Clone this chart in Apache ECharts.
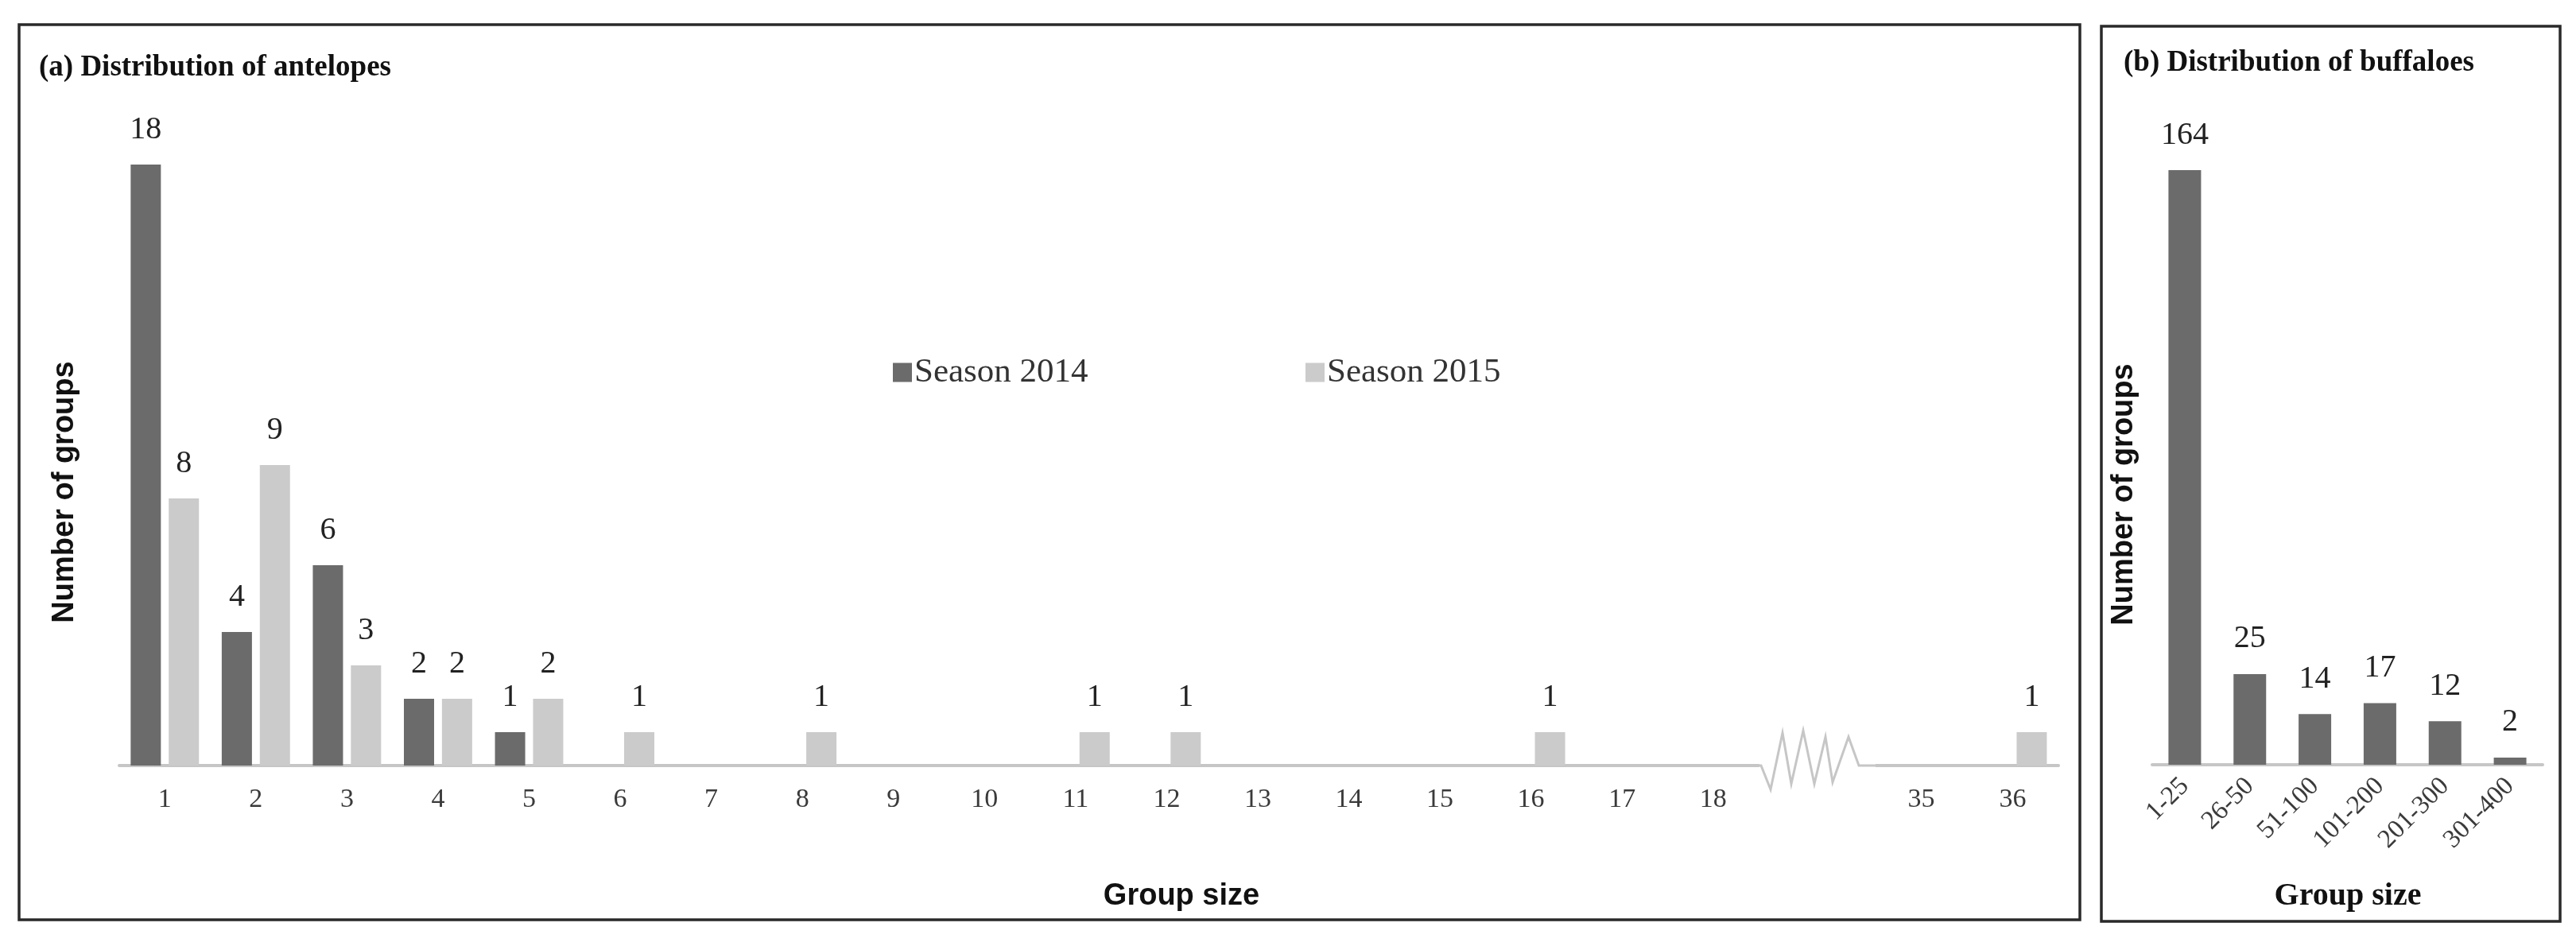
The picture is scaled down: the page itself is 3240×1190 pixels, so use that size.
<!DOCTYPE html>
<html>
<head>
<meta charset="utf-8">
<script src="https://cdn.jsdelivr.net/npm/echarts@6/dist/echarts.min.js"></script>
<style>
    html, body { margin: 0; padding: 0; background: #fff; }
    #chart { width: 3240px; height: 1190px; }
</style>
</head>
<body>
<div id="chart"></div>
<script>
// antelopes: group size categories (axis is broken after 18)
const groupSizes = ['1', '2', '3', '4', '5', '6', '7', '8', '9', '10', '11', '12', '13', '14', '15', '16', '17', '18', '35', '36'];
const season2014 = [18, 4, 6, 2, 1, 0, 0, 0, 0, 0, 0, 0, 0, 0, 0, 0, 0, 0, 0, 0];
const season2015 = [8, 9, 3, 2, 2, 1, 0, 1, 0, 0, 1, 1, 0, 0, 0, 1, 0, 0, 0, 1];
const breakIndex = 18;

// buffaloes
const buffaloSizes = ['1-25', '26-50', '51-100', '101-200', '201-300', '301-400'];
const buffaloGroups = [164, 25, 14, 17, 12, 2];

const DARK = '#6b6b6b';
const LIGHT = '#cbcbcb';
const SERIF = '"Liberation Serif", "DejaVu Serif", serif';
const SANS = '"Liberation Sans", Arial, sans-serif';

const axisY = 963;
const leftGrid = { left: 150, width: 2062 };
const tailGrid = { left: 2359, width: 230 };
const buffGrid = { left: 2707, width: 491 };

function hideZero(p) {
    return p.value > 0 ? p.value : '';
}

function catAxis(idx, data, extra) {
    return Object.assign({
        type: 'category',
        gridIndex: idx,
        data: data,
        axisLine: { lineStyle: { color: '#c6c6c6', width: 4 } },
        axisTick: { length: 11, lineStyle: { color: '#b0b0b0', width: 2 } },
        axisLabel: { color: '#3a3a3a', fontFamily: SERIF, fontSize: 34, margin: 26 }
    }, extra || {});
}

function valAxis(idx, max) {
    return { type: 'value', gridIndex: idx, min: 0, max: max, show: false };
}

const valueLabel = {
    show: true,
    position: 'top',
    distance: 24,
    color: '#222',
    fontFamily: SERIF,
    fontSize: 40,
    lineHeight: 40,
    formatter: hideZero
};

function bar(name, color, axisIdx, data, width) {
    return {
        name: name,
        type: 'bar',
        xAxisIndex: axisIdx,
        yAxisIndex: axisIdx,
        data: data,
        barWidth: width,
        barGap: '26%',
        itemStyle: { color: color },
        label: valueLabel,
        emphasis: { disabled: true }
    };
}

// zigzag marking the axis break, placed between the two antelope grids
const breakStart = leftGrid.left + leftGrid.width;
const zig = [[0, 0], [3, 0], [15, 30], [30, -41], [41, 23], [56, -44], [70, 23], [84, -36], [93, 21], [113, -36], [126, 0], [147, 0]];
const zigPoints = zig.map(p => [breakStart + p[0], axisY + p[1]]);

const titleStyle = { fontFamily: SERIF, fontSize: 37, fontWeight: 'bold', color: '#111' };

const option = {
    backgroundColor: '#fff',
    animation: false,
    title: [
        { text: '(a) Distribution of antelopes', left: 44, top: 62, textStyle: titleStyle },
        { text: '(b) Distribution of buffaloes', left: 2666, top: 56, textStyle: titleStyle }
    ],
    legend: [
        {
            data: ['Season 2014'], left: 1118, top: 442, icon: 'rect', itemWidth: 24, itemHeight: 24, itemGap: 6,
            textStyle: { fontFamily: SERIF, fontSize: 43, color: '#333', padding: [0, 0, 0, -2] }
        },
        {
            data: ['Season 2015'], left: 1637, top: 442, icon: 'rect', itemWidth: 24, itemHeight: 24, itemGap: 6,
            textStyle: { fontFamily: SERIF, fontSize: 43, color: '#333', padding: [0, 0, 0, -2] }
        }
    ],
    grid: [
        { left: leftGrid.left, width: leftGrid.width, top: 207, bottom: 1190 - axisY },
        { left: tailGrid.left, width: tailGrid.width, top: 207, bottom: 1190 - axisY },
        { left: buffGrid.left, width: buffGrid.width, top: 214, bottom: 228 }
    ],
    xAxis: [
        catAxis(0, groupSizes.slice(0, breakIndex)),
        catAxis(1, groupSizes.slice(breakIndex)),
        catAxis(2, buffaloSizes, {
            axisLabel: { color: '#3a3a3a', fontFamily: SERIF, fontSize: 33, margin: 22, rotate: 45 }
        })
    ],
    yAxis: [
        valAxis(0, 18),
        valAxis(1, 18),
        valAxis(2, 164)
    ],
    series: [
        bar('Season 2014', DARK, 0, season2014.slice(0, breakIndex), 38),
        bar('Season 2015', LIGHT, 0, season2015.slice(0, breakIndex), 38),
        bar('Season 2014', DARK, 1, season2014.slice(breakIndex), 38),
        bar('Season 2015', LIGHT, 1, season2015.slice(breakIndex), 38),
        bar('Buffaloes', DARK, 2, buffaloGroups, 41)
    ],
    graphic: [
        {
            type: 'rect', silent: true,
            shape: { x: 24, y: 31, width: 2592, height: 1126 },
            style: { fill: 'none', stroke: '#2a2a2a', lineWidth: 3.5 }
        },
        {
            type: 'rect', silent: true,
            shape: { x: 2643, y: 33, width: 577, height: 1126 },
            style: { fill: 'none', stroke: '#2a2a2a', lineWidth: 3.5 }
        },
        {
            // hide the axis line under the break, then draw the zigzag
            type: 'rect', silent: true, z: 10,
            shape: { x: breakStart + 1, y: axisY - 4, width: 146, height: 8 },
            style: { fill: '#fff' }
        },
        {
            type: 'polyline', silent: true, z: 11,
            shape: { points: zigPoints },
            style: { fill: 'none', stroke: '#c6c6c6', lineWidth: 3 }
        },
        {
            type: 'text', silent: true, x: 82, y: 619, rotation: Math.PI / 2,
            style: { text: 'Number of groups', font: 'bold 38px ' + SANS, fill: '#111', textAlign: 'center', textVerticalAlign: 'middle' }
        },
        {
            type: 'text', silent: true, x: 1486, y: 1128,
            style: { text: 'Group size', font: 'bold 38px ' + SANS, fill: '#111', textAlign: 'center', textVerticalAlign: 'middle' }
        },
        {
            type: 'text', silent: true, x: 2672, y: 622, rotation: Math.PI / 2,
            style: { text: 'Number of groups', font: 'bold 38px ' + SANS, fill: '#111', textAlign: 'center', textVerticalAlign: 'middle' }
        },
        {
            type: 'text', silent: true, x: 2953, y: 1128,
            style: { text: 'Group size', font: 'bold 40px ' + SERIF, fill: '#111', textAlign: 'center', textVerticalAlign: 'middle' }
        }
    ]
};

const myChart = echarts.init(document.getElementById('chart'));
myChart.setOption(option);
</script>
</body>
</html>
